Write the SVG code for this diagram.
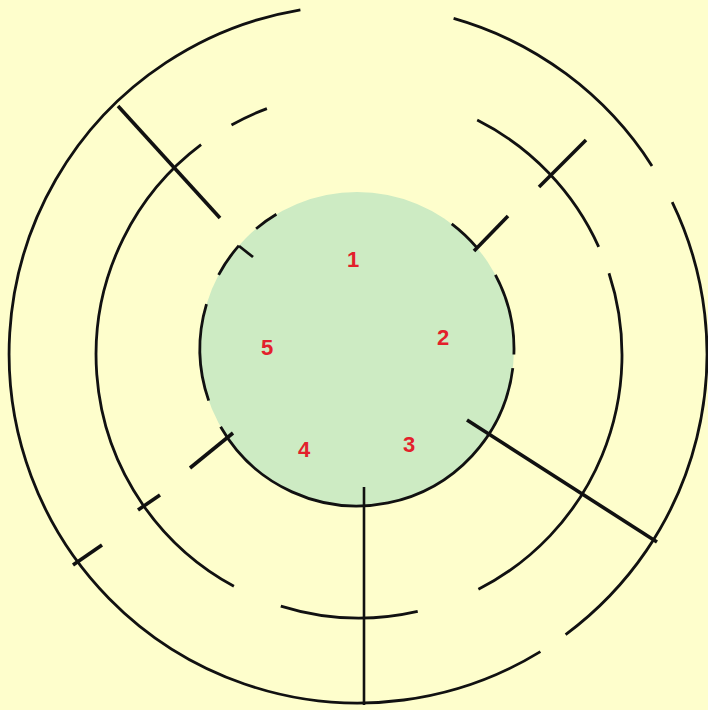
<svg xmlns="http://www.w3.org/2000/svg" width="708" height="710" viewBox="0 0 708 710">
<style>
.arc{fill:none;stroke:#111;stroke-width:2.8;stroke-linecap:butt}
.wall{fill:none;stroke:#111;stroke-width:3.6;stroke-linecap:butt}
.thin{fill:none;stroke:#111;stroke-width:2.6}
.lbl{font-family:"Liberation Sans",Arial,sans-serif;font-size:22px;font-weight:bold;fill:#e3202b;text-anchor:middle}
</style>
<rect width="708" height="710" fill="#fefecc"/>
<g id="center">
<circle cx="357" cy="349" r="157" fill="#cdebc3"/>
</g>
<g id="inner-ring">
<path class="arc" d="M451.7,223.8 A157,157 0 0 1 477.1,247.9"/>
<path class="arc" d="M495.4,274.8 A157,157 0 0 1 513.9,354.5"/>
<path class="arc" d="M512.8,368.1 A157,157 0 0 1 220.6,426.8"/>
<path class="arc" d="M208.7,400.6 A157,157 0 0 1 206.5,304.1"/>
<path class="arc" d="M218.6,274.8 A157,157 0 0 1 238.9,245.6"/>
<path class="arc" d="M256.1,228.7 A157,157 0 0 1 276.4,214.3"/>
</g>
<g id="middle-ring">
<path class="arc" d="M477.2,120 A263,263 0 0 1 598.7,246.8"/>
<path class="arc" d="M609,273.3 A263,263 0 0 1 478.4,589.3"/>
<path class="arc" d="M417.7,611.4 A263,263 0 0 1 280.8,606.1"/>
<path class="arc" d="M233.9,586.3 A263,263 0 0 1 201.1,144.7"/>
<path class="arc" d="M231.5,125 A263,263 0 0 1 266.9,108.6"/>
</g>
<g id="outer-ring">
<path class="arc" d="M453.6,18.4 A349,349 0 0 1 652,165.9"/>
<path class="arc" d="M672.2,202.1 A349,349 0 0 1 565.6,634.6"/>
<path class="arc" d="M540.4,651.6 A349,349 0 1 1 300.4,9.8"/>
</g>
<g id="connectors">
<line class="wall" x1="118" y1="106" x2="220" y2="218"/>
<line class="wall" x1="539" y1="187" x2="586" y2="140"/>
<line class="wall" x1="467" y1="420" x2="657" y2="542"/>
<line class="thin" x1="364" y1="487" x2="364" y2="705"/>
<line class="wall" x1="73" y1="565" x2="102" y2="545"/>
<line class="wall" x1="138" y1="510" x2="160" y2="495"/>
<line class="wall" x1="190" y1="468" x2="233" y2="433"/>
<line class="wall" x1="474" y1="251" x2="508" y2="216"/>
<line class="arc" x1="239" y1="246" x2="253" y2="257"/>
</g>
<g id="labels">
<text class="lbl" x="353" y="267">1</text>
<text class="lbl" x="443" y="345">2</text>
<text class="lbl" x="409" y="452">3</text>
<text class="lbl" x="304" y="457">4</text>
<text class="lbl" x="267" y="355">5</text>
</g>
</svg>
